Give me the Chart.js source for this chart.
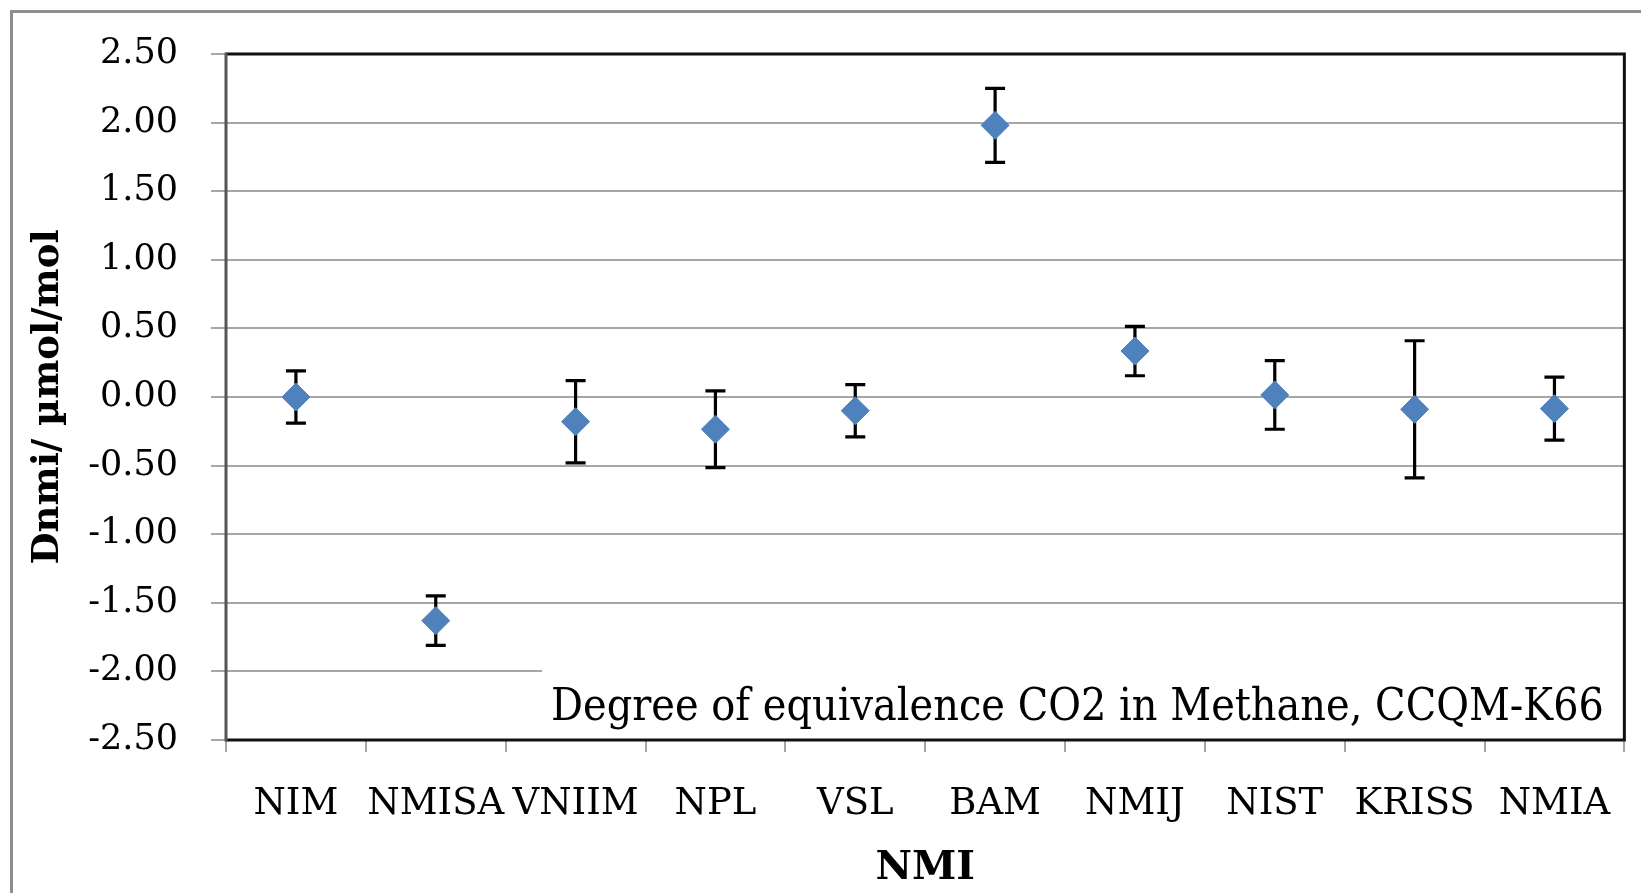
<!DOCTYPE html>
<html>
<head>
<meta charset="utf-8">
<script src="https://cdn.jsdelivr.net/npm/chart.js@4.4.1/dist/chart.umd.min.js"></script>
<style>
html,body{margin:0;padding:0;background:#fff;}
#wrap{width:1641px;height:893px;position:relative;}
canvas{display:block;}
</style>
</head>
<body>
<div id="wrap"><canvas id="c" width="1641" height="893"></canvas></div>
<script>
const categories = ['NIM','NMISA','VNIIM','NPL','VSL','BAM','NMIJ','NIST','KRISS','NMIA'];
const values = [0.00, -1.63, -0.18, -0.235, -0.10, 1.98, 0.335, 0.015, -0.09, -0.085];
const uncertainties = [0.19, 0.18, 0.30, 0.28, 0.19, 0.27, 0.18, 0.25, 0.50, 0.23];
const yTicks = [-2.5, -2.0, -1.5, -1.0, -0.5, 0.0, 0.5, 1.0, 1.5, 2.0, 2.5];
const yTitle = 'Dnmi/ µmol/mol';
const xTitle = 'NMI';
const boxText = 'Degree of equivalence CO2 in Methane, CCQM-K66';

const decor = {
  id: 'decor',
  beforeDatasetsDraw(chart) {
    const {ctx, chartArea: a, scales: {x, y}} = chart;
    ctx.save();
    // annotation box background
    ctx.fillStyle = '#ffffff';
    ctx.fillRect(542, 658, a.right - 542, a.bottom - 658);
    // error bars
    ctx.strokeStyle = '#000000';
    ctx.lineWidth = 3.2;
    values.forEach((v, i) => {
      const px = x.getPixelForValue(i);
      const top = y.getPixelForValue(v + uncertainties[i]);
      const bot = y.getPixelForValue(v - uncertainties[i]);
      ctx.beginPath();
      ctx.moveTo(px, top); ctx.lineTo(px, bot);
      ctx.moveTo(px - 10, top); ctx.lineTo(px + 10, top);
      ctx.moveTo(px - 10, bot); ctx.lineTo(px + 10, bot);
      ctx.stroke();
    });
    ctx.restore();
  },
  afterDraw(chart) {
    const {ctx, chartArea: a} = chart;
    ctx.save();
    // outer frame
    ctx.strokeStyle = '#8e8e8e';
    ctx.lineWidth = 3;
    ctx.strokeRect(11.5, 11.5, 3000, 3000);
    // plot frame
    ctx.lineWidth = 3;
    ctx.strokeStyle = '#111111';
    ctx.beginPath();
    ctx.moveTo(a.left, a.top); ctx.lineTo(a.right, a.top); ctx.lineTo(a.right, a.bottom); ctx.lineTo(a.left, a.bottom);
    ctx.stroke();
    ctx.strokeStyle = '#555555';
    ctx.beginPath();
    ctx.moveTo(a.left, a.top - 1.5); ctx.lineTo(a.left, a.bottom + 1.5);
    ctx.stroke();
    // box text
    ctx.fillStyle = '#000000';
    ctx.font = '45px "DejaVu Serif"';
    ctx.textBaseline = 'alphabetic';
    ctx.textAlign = 'left';
    const w = ctx.measureText(boxText).width;
    const target = 1053;
    ctx.translate(551, 720);
    ctx.scale(target / w, 1);
    ctx.fillText(boxText, 0, 0);
    ctx.restore();
  }
};

new Chart(document.getElementById('c'), {
  type: 'line',
  data: {
    labels: categories,
    datasets: [{
      data: values,
      showLine: false,
      pointStyle: 'rectRot',
      pointRadius: 14,
      pointHoverRadius: 14,
      pointBackgroundColor: '#4f81bd',
      pointBorderColor: '#4f81bd',
      pointBorderWidth: 1
    }]
  },
  options: {
    responsive: false,
    animation: false,
    events: [],
    layout: {padding: {left: 10, right: 14, top: 52, bottom: 0}},
    plugins: {legend: {display: false}, tooltip: {enabled: false}},
    scales: {
      x: {
        type: 'category',
        offset: true,
        grid: {offset: true, drawOnChartArea: false, drawTicks: true, tickLength: 12, color: '#a6a6a6', lineWidth: 2},
        border: {display: false},
        ticks: {autoSkip: false, maxRotation: 0, minRotation: 0, padding: 30, color: '#000', font: {family: '"DejaVu Serif"', size: 37}},
        title: {display: true, text: xTitle, color: '#000', font: {family: '"DejaVu Serif"', size: 40, weight: 'bold'}, padding: {top: 0, bottom: 0}},
        afterFit(s) { s.height = 893 - 740; }
      },
      y: {
        min: -2.5, max: 2.5,
        afterBuildTicks(s) { s.ticks = yTicks.map(v => ({value: v})); },
        grid: {color: '#a6a6a6', lineWidth: 2, tickLength: 15},
        border: {display: false},
        ticks: {padding: 33, color: '#000', font: {family: '"DejaVu Serif"', size: 35}, callback: v => v.toFixed(2)},
        title: {display: true, text: yTitle, color: '#000', font: {family: '"DejaVu Serif"', size: 37, weight: 'bold'}, padding: {top: 16, bottom: 0}},
        afterFit(s) { s.width = 226 - 10; }
      }
    }
  },
  plugins: [decor]
});
</script>
</body>
</html>
